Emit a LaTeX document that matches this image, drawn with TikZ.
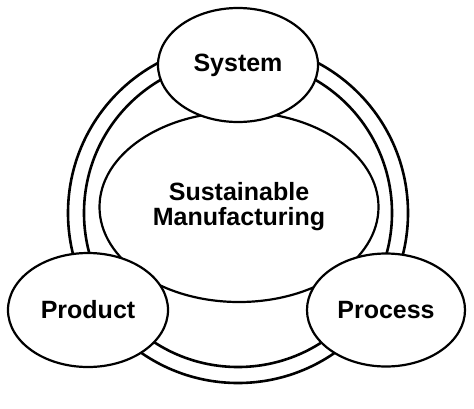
\documentclass[tikz,border=0pt]{standalone}
\usepackage{fontspec}
\setmainfont{Liberation Sans}
\usetikzlibrary{shapes.geometric}
\begin{document}
\begin{tikzpicture}[x=1pt,y=-1pt,
  ringline/.style={circle,draw,line width=2.6pt,inner sep=0pt},
  bubble/.style={ellipse,draw,fill=white,line width=2.2pt,inner sep=0pt,
    font=\fontsize{25}{28}\selectfont\bfseries,align=center}]
\useasboundingbox (0,0) rectangle (474,408);
\node[ringline,minimum size=340pt] (outer) at (238,213) {};
\node[ringline,minimum size=308pt] (inner) at (238,213) {};
\node[bubble,minimum width=279pt,minimum height=190pt] (core) at (239,207) {Sustainable\\[-3pt]Manufacturing};
\node[bubble,minimum width=160pt,minimum height=114pt] (system) at (238,65) {System};
\node[bubble,minimum width=160pt,minimum height=114pt] (product) at (88,310) {Product};
\node[bubble,minimum width=158pt,minimum height=113pt] (process) at (386,310) {Process};
\end{tikzpicture}
\end{document}
